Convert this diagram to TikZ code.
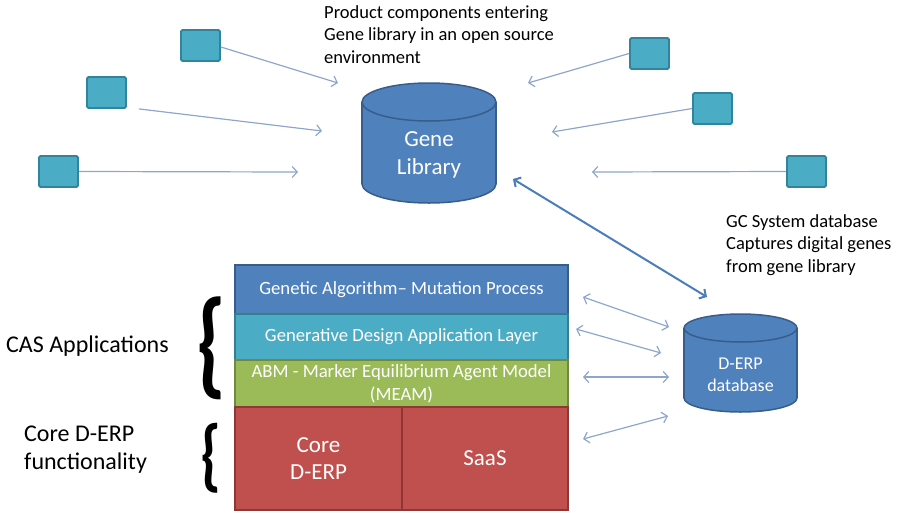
\documentclass[tikz,border=0pt]{standalone}
\usepackage{fontspec}
\setmainfont{Carlito}
\usetikzlibrary{arrows.meta}

\definecolor{sqfill}{HTML}{4BACC6}
\definecolor{sqline}{HTML}{31849B}
\definecolor{dbfill}{HTML}{4F81BD}
\definecolor{dbline}{HTML}{385D8A}
\definecolor{gdfill}{HTML}{4BACC6}
\definecolor{gdline}{HTML}{357D91}
\definecolor{abfill}{HTML}{9BBB59}
\definecolor{abline}{HTML}{71893F}
\definecolor{erfill}{HTML}{C0504D}
\definecolor{erline}{HTML}{8C3836}
\definecolor{thinarrow}{HTML}{8FA6CB}
\definecolor{mainarrow}{HTML}{4A7EBB}

\tikzset{
  comp/.style={draw=sqline, fill=sqfill, line width=1.8pt, rounded corners=1.5pt,
    minimum width=39pt, minimum height=31pt, inner sep=0pt},
  barb/.tip={Straight Barb[length=5pt,width=11pt]},
  feed/.style={draw=thinarrow, line width=1.2pt, -barb},
  link/.style={draw=thinarrow, line width=1.2pt, barb-barb},
  mainlink/.style={draw=mainarrow, line width=2pt, barb-barb},
  dbbody/.style={fill=dbfill, draw=dbline, line width=1.5pt},
  layer/.style={line width=1.2pt, text=white, inner sep=0pt, align=center,
    font=\fontsize{18.7}{23}\selectfont},
  label/.style={inner sep=0pt, align=left, font=\fontsize{18.5}{22.7}\selectfont},
  side/.style={inner sep=0pt, align=left, font=\fontsize{24}{28}\selectfont},
  bracket/.style={inner sep=0pt},
}

% database cylinder: centre x, top rim y, bottom rim y, x radius, y radius
\newcommand\dbcyl[5]{%
  \filldraw[dbbody] (#1,#3) ellipse ({#4} and {#5});
  \fill[dbfill] (#1-#4,#2) rectangle (#1+#4,#3);
  \draw[dbline, line width=1.5pt] (#1-#4,#2) -- (#1-#4,#3) (#1+#4,#2) -- (#1+#4,#3);
  \filldraw[dbbody] (#1,#2) ellipse ({#4} and {#5});
}

\begin{document}
\begin{tikzpicture}[x=1pt, y=-1pt]
\useasboundingbox (0,0) rectangle (900,512);

% ---- gene library and incoming product components ----
\dbcyl{429}{102}{184}{67}{19}
\node[text=white, inner sep=0pt, align=center, minimum width=134pt, minimum height=100pt,
      font=\fontsize{23}{28}\selectfont] (gene) at (429,155) {Gene\\Library};

\node[comp] (s1) at (200.5,45.5) {};
\node[comp] (s2) at (106.5,92.5) {};
\node[comp] (s3) at (58.5,171.5) {};
\node[comp] (s4) at (649.5,53.5) {};
\node[comp] (s5) at (712.5,108.5) {};
\node[comp] (s6) at (806.5,171.5) {};

\coordinate (e1) at (338,83);
\coordinate (e2) at (322,131);
\coordinate (e3) at (298,172);
\coordinate (e4) at (528,83);
\coordinate (e5) at (552,132);
\coordinate (e6) at (592,172);

\draw[feed] (s1.east |- 0,47) -- (e1);
\draw[feed] ([xshift=12pt]s2.south east) -- (e2);
\draw[feed] (s3.east) -- (e3);
\draw[feed] (s4.west) -- (e4);
\draw[feed] (s5.west) -- (e5);
\draw[feed] (s6.west) -- (e6);

\node[label, anchor=north west] (prodtext) at (324,5)
  {Product components entering\\Gene library in an open source\\environment};

% ---- D-ERP database ----
\dbcyl{740.5}{328}{398}{56.5}{14}
\node[text=white, inner sep=0pt, align=center, minimum width=112pt, minimum height=60pt,
      font=\fontsize{18}{22}\selectfont] (derp) at (740.5,375) {D-ERP\\database};

\coordinate (g1) at (513,179);
\coordinate (g2) at (707,297);
\draw[mainlink] (g1) -- (g2);

\node[label, anchor=north west] (gctext) at (726,214)
  {GC System database\\Captures digital genes\\from gene library};

% ---- layered application stack ----
\node[layer, fill=dbfill, draw=dbline, minimum width=333pt, minimum height=49pt]
  (ga) at (401.5,289.5) {Genetic Algorithm-- Mutation Process};
\node[layer, fill=gdfill, draw=gdline, minimum width=333pt, minimum height=46pt]
  (gd) at (401.5,337) {Generative Design Application Layer};
\node[layer, fill=abfill, draw=abline, minimum width=333pt, minimum height=47pt]
  (abm) at (401.5,383.5) {ABM - Marker Equilibrium Agent Model\\(MEAM)};
\node[layer, fill=erfill, draw=erline, minimum width=167pt, minimum height=103pt,
      font=\fontsize{23}{27}\selectfont]
  (core) at (318.5,458.5) {Core\\D-ERP};
\node[layer, fill=erfill, draw=erline, minimum width=166pt, minimum height=103pt,
      font=\fontsize{23}{27}\selectfont]
  (saas) at (485,458.5) {SaaS};

% links between the stack and the D-ERP database
\coordinate (a1) at (583,297);  \coordinate (b1) at (669,327);
\coordinate (a2) at (576,329);  \coordinate (b2) at (661,353);
\coordinate (a3) at (583,377);  \coordinate (b3) at (669,377);
\coordinate (a4) at (583,439);  \coordinate (b4) at (668,416);
\draw[link] (a1) -- (b1);
\draw[link] (a2) -- (b2);
\draw[link] (a3) -- (b3);
\draw[link] (a4) -- (b4);

% ---- group labels with braces ----
\node[bracket] (casbrace) at (211,348.5) {\resizebox*{30pt}{103pt}{\bfseries\{}};
\node[bracket] (corebrace) at (211,458) {\resizebox*{21pt}{70pt}{\bfseries\{}};
\node[side, anchor=west] (cas) at (6,346) {CAS Applications};
\node[side, anchor=west] (corelabel) at (24,450) {Core D-ERP\\functionality};
\end{tikzpicture}
\end{document}
